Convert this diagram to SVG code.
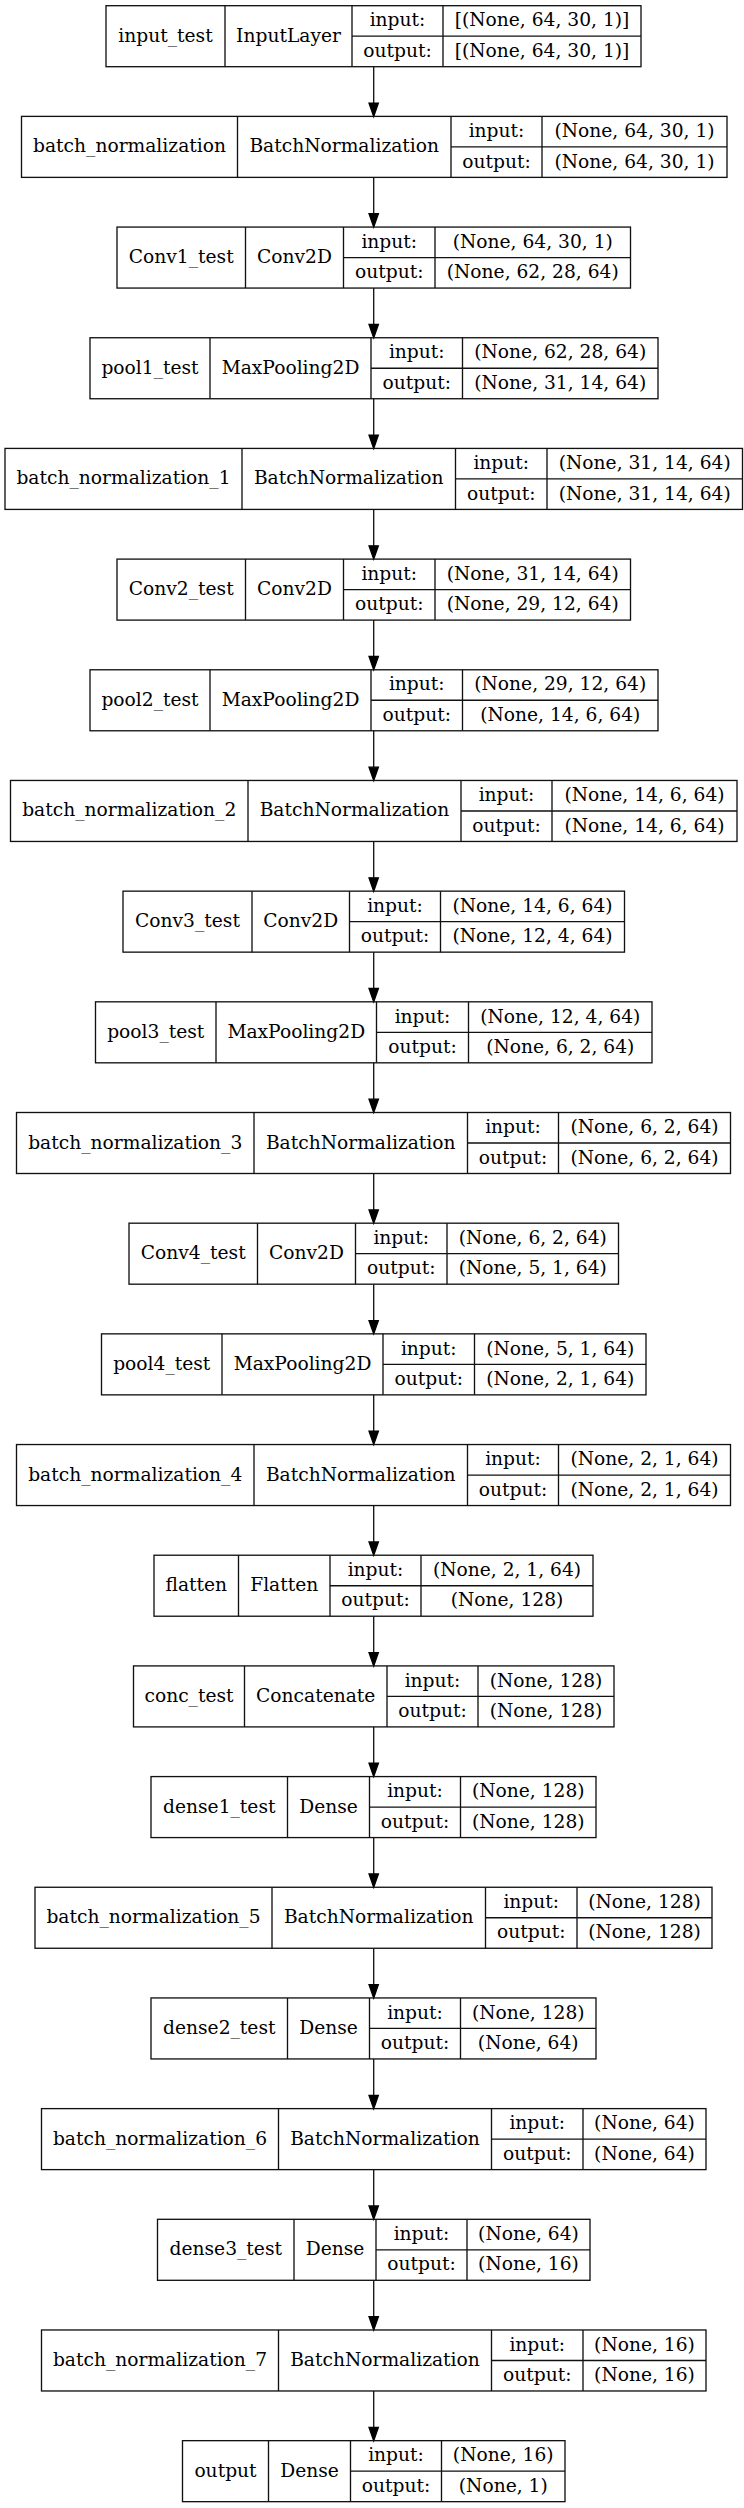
<svg xmlns="http://www.w3.org/2000/svg" width="744" height="2508" viewBox="0 0 744 2508">
<style>
.b rect,.b path{fill:none;stroke:#111;stroke-width:1.33}
.b text{font-family:"DejaVu Serif",serif;font-size:18.67px;text-anchor:middle;fill:#000}
.e path{fill:none;stroke:#111;stroke-width:1.33}
</style>
<defs>
<marker id="ah" markerUnits="userSpaceOnUse" markerWidth="16" markerHeight="12" refX="0" refY="6" orient="auto" overflow="visible">
<path d="M0,1.33 L13.3,6 L0,10.67 z" fill="#000" stroke="#000" stroke-width="1.33"/>
</marker>
</defs>
<rect width="744" height="2508" fill="#fff"/>
<g id="connectors" class="e">
<path d="M373.7,66.7V103.08" marker-end="url(#ah)"/>
<path d="M373.7,177.38V213.76" marker-end="url(#ah)"/>
<path d="M373.7,288.06V324.44" marker-end="url(#ah)"/>
<path d="M373.7,398.74V435.12" marker-end="url(#ah)"/>
<path d="M373.7,509.42V545.8" marker-end="url(#ah)"/>
<path d="M373.7,620.1V656.48" marker-end="url(#ah)"/>
<path d="M373.7,730.78V767.16" marker-end="url(#ah)"/>
<path d="M373.7,841.46V877.84" marker-end="url(#ah)"/>
<path d="M373.7,952.14V988.52" marker-end="url(#ah)"/>
<path d="M373.7,1062.82V1099.2" marker-end="url(#ah)"/>
<path d="M373.7,1173.5V1209.88" marker-end="url(#ah)"/>
<path d="M373.7,1284.18V1320.56" marker-end="url(#ah)"/>
<path d="M373.7,1394.86V1431.24" marker-end="url(#ah)"/>
<path d="M373.7,1505.54V1541.92" marker-end="url(#ah)"/>
<path d="M373.7,1616.22V1652.6" marker-end="url(#ah)"/>
<path d="M373.7,1726.9V1763.28" marker-end="url(#ah)"/>
<path d="M373.7,1837.58V1873.96" marker-end="url(#ah)"/>
<path d="M373.7,1948.26V1984.64" marker-end="url(#ah)"/>
<path d="M373.7,2058.94V2095.32" marker-end="url(#ah)"/>
<path d="M373.7,2169.62V2206" marker-end="url(#ah)"/>
<path d="M373.7,2280.3V2316.68" marker-end="url(#ah)"/>
<path d="M373.7,2390.98V2427.36" marker-end="url(#ah)"/>
</g>

<g id="input_test" class="b" transform="translate(0,5.7)">
<rect x="106" y="0" width="535" height="61"/>
<path d="M225,0V61M352,0V61M443,0V61M352,30.5H641"/>
<text x="165.5" y="36">input_test</text><text x="288.5" y="36">InputLayer</text>
<text x="397.5" y="20.7">input:</text><text x="542" y="20.7">[(None, 64, 30, 1)]</text>
<text x="397.5" y="51.2">output:</text><text x="542" y="51.2">[(None, 64, 30, 1)]</text>
</g>

<g id="batch_normalization" class="b" transform="translate(0,116.38)">
<rect x="21.5" y="0" width="705.5" height="61"/>
<path d="M237.5,0V61M451,0V61M542,0V61M451,30.5H727"/>
<text x="129.5" y="36">batch_normalization</text><text x="344.25" y="36">BatchNormalization</text>
<text x="496.5" y="20.7">input:</text><text x="634.5" y="20.7">(None, 64, 30, 1)</text>
<text x="496.5" y="51.2">output:</text><text x="634.5" y="51.2">(None, 64, 30, 1)</text>
</g>

<g id="Conv1_test" class="b" transform="translate(0,227.06)">
<rect x="117" y="0" width="513.5" height="61"/>
<path d="M245.5,0V61M343.5,0V61M435,0V61M343.5,30.5H630.5"/>
<text x="181.25" y="36">Conv1_test</text><text x="294.5" y="36">Conv2D</text>
<text x="389.25" y="20.7">input:</text><text x="532.75" y="20.7">(None, 64, 30, 1)</text>
<text x="389.25" y="51.2">output:</text><text x="532.75" y="51.2">(None, 62, 28, 64)</text>
</g>

<g id="pool1_test" class="b" transform="translate(0,337.74)">
<rect x="90" y="0" width="568" height="61"/>
<path d="M210,0V61M371,0V61M462.5,0V61M371,30.5H658"/>
<text x="150" y="36">pool1_test</text><text x="290.5" y="36">MaxPooling2D</text>
<text x="416.75" y="20.7">input:</text><text x="560.25" y="20.7">(None, 62, 28, 64)</text>
<text x="416.75" y="51.2">output:</text><text x="560.25" y="51.2">(None, 31, 14, 64)</text>
</g>

<g id="batch_normalization_1" class="b" transform="translate(0,448.42)">
<rect x="5" y="0" width="737.5" height="61"/>
<path d="M242,0V61M455.5,0V61M547,0V61M455.5,30.5H742.5"/>
<text x="123.5" y="36">batch_normalization_1</text><text x="348.75" y="36">BatchNormalization</text>
<text x="501.25" y="20.7">input:</text><text x="644.75" y="20.7">(None, 31, 14, 64)</text>
<text x="501.25" y="51.2">output:</text><text x="644.75" y="51.2">(None, 31, 14, 64)</text>
</g>

<g id="Conv2_test" class="b" transform="translate(0,559.1)">
<rect x="117" y="0" width="513.5" height="61"/>
<path d="M245.5,0V61M343.5,0V61M435,0V61M343.5,30.5H630.5"/>
<text x="181.25" y="36">Conv2_test</text><text x="294.5" y="36">Conv2D</text>
<text x="389.25" y="20.7">input:</text><text x="532.75" y="20.7">(None, 31, 14, 64)</text>
<text x="389.25" y="51.2">output:</text><text x="532.75" y="51.2">(None, 29, 12, 64)</text>
</g>

<g id="pool2_test" class="b" transform="translate(0,669.78)">
<rect x="90" y="0" width="568" height="61"/>
<path d="M210,0V61M371,0V61M462.5,0V61M371,30.5H658"/>
<text x="150" y="36">pool2_test</text><text x="290.5" y="36">MaxPooling2D</text>
<text x="416.75" y="20.7">input:</text><text x="560.25" y="20.7">(None, 29, 12, 64)</text>
<text x="416.75" y="51.2">output:</text><text x="560.25" y="51.2">(None, 14, 6, 64)</text>
</g>

<g id="batch_normalization_2" class="b" transform="translate(0,780.46)">
<rect x="10.5" y="0" width="726.5" height="61"/>
<path d="M248,0V61M461,0V61M552,0V61M461,30.5H737"/>
<text x="129.25" y="36">batch_normalization_2</text><text x="354.5" y="36">BatchNormalization</text>
<text x="506.5" y="20.7">input:</text><text x="644.5" y="20.7">(None, 14, 6, 64)</text>
<text x="506.5" y="51.2">output:</text><text x="644.5" y="51.2">(None, 14, 6, 64)</text>
</g>

<g id="Conv3_test" class="b" transform="translate(0,891.14)">
<rect x="123" y="0" width="501.5" height="61"/>
<path d="M252,0V61M349.5,0V61M440.5,0V61M349.5,30.5H624.5"/>
<text x="187.5" y="36">Conv3_test</text><text x="300.75" y="36">Conv2D</text>
<text x="395" y="20.7">input:</text><text x="532.5" y="20.7">(None, 14, 6, 64)</text>
<text x="395" y="51.2">output:</text><text x="532.5" y="51.2">(None, 12, 4, 64)</text>
</g>

<g id="pool3_test" class="b" transform="translate(0,1001.82)">
<rect x="95.5" y="0" width="556.5" height="61"/>
<path d="M216,0V61M376.5,0V61M468.5,0V61M376.5,30.5H652"/>
<text x="155.75" y="36">pool3_test</text><text x="296.25" y="36">MaxPooling2D</text>
<text x="422.5" y="20.7">input:</text><text x="560.25" y="20.7">(None, 12, 4, 64)</text>
<text x="422.5" y="51.2">output:</text><text x="560.25" y="51.2">(None, 6, 2, 64)</text>
</g>

<g id="batch_normalization_3" class="b" transform="translate(0,1112.5)">
<rect x="16.5" y="0" width="714" height="61"/>
<path d="M254,0V61M467.5,0V61M558.5,0V61M467.5,30.5H730.5"/>
<text x="135.25" y="36">batch_normalization_3</text><text x="360.75" y="36">BatchNormalization</text>
<text x="513" y="20.7">input:</text><text x="644.5" y="20.7">(None, 6, 2, 64)</text>
<text x="513" y="51.2">output:</text><text x="644.5" y="51.2">(None, 6, 2, 64)</text>
</g>

<g id="Conv4_test" class="b" transform="translate(0,1223.18)">
<rect x="129" y="0" width="489.5" height="61"/>
<path d="M257.5,0V61M355.5,0V61M447,0V61M355.5,30.5H618.5"/>
<text x="193.25" y="36">Conv4_test</text><text x="306.5" y="36">Conv2D</text>
<text x="401.25" y="20.7">input:</text><text x="532.75" y="20.7">(None, 6, 2, 64)</text>
<text x="401.25" y="51.2">output:</text><text x="532.75" y="51.2">(None, 5, 1, 64)</text>
</g>

<g id="pool4_test" class="b" transform="translate(0,1333.86)">
<rect x="101.5" y="0" width="544.5" height="61"/>
<path d="M222,0V61M383,0V61M474.5,0V61M383,30.5H646"/>
<text x="161.75" y="36">pool4_test</text><text x="302.5" y="36">MaxPooling2D</text>
<text x="428.75" y="20.7">input:</text><text x="560.25" y="20.7">(None, 5, 1, 64)</text>
<text x="428.75" y="51.2">output:</text><text x="560.25" y="51.2">(None, 2, 1, 64)</text>
</g>

<g id="batch_normalization_4" class="b" transform="translate(0,1444.54)">
<rect x="16.5" y="0" width="714" height="61"/>
<path d="M254,0V61M467.5,0V61M558.5,0V61M467.5,30.5H730.5"/>
<text x="135.25" y="36">batch_normalization_4</text><text x="360.75" y="36">BatchNormalization</text>
<text x="513" y="20.7">input:</text><text x="644.5" y="20.7">(None, 2, 1, 64)</text>
<text x="513" y="51.2">output:</text><text x="644.5" y="51.2">(None, 2, 1, 64)</text>
</g>

<g id="flatten" class="b" transform="translate(0,1555.22)">
<rect x="154" y="0" width="439" height="61"/>
<path d="M238.5,0V61M330,0V61M421,0V61M330,30.5H593"/>
<text x="196.25" y="36">flatten</text><text x="284.25" y="36">Flatten</text>
<text x="375.5" y="20.7">input:</text><text x="507" y="20.7">(None, 2, 1, 64)</text>
<text x="375.5" y="51.2">output:</text><text x="507" y="51.2">(None, 128)</text>
</g>

<g id="conc_test" class="b" transform="translate(0,1665.9)">
<rect x="133.5" y="0" width="480.5" height="61"/>
<path d="M244.5,0V61M387,0V61M478,0V61M387,30.5H614"/>
<text x="189" y="36">conc_test</text><text x="315.75" y="36">Concatenate</text>
<text x="432.5" y="20.7">input:</text><text x="546" y="20.7">(None, 128)</text>
<text x="432.5" y="51.2">output:</text><text x="546" y="51.2">(None, 128)</text>
</g>

<g id="dense1_test" class="b" transform="translate(0,1776.58)">
<rect x="151" y="0" width="445" height="61"/>
<path d="M287.5,0V61M369.5,0V61M460.5,0V61M369.5,30.5H596"/>
<text x="219.25" y="36">dense1_test</text><text x="328.5" y="36">Dense</text>
<text x="415" y="20.7">input:</text><text x="528.25" y="20.7">(None, 128)</text>
<text x="415" y="51.2">output:</text><text x="528.25" y="51.2">(None, 128)</text>
</g>

<g id="batch_normalization_5" class="b" transform="translate(0,1887.26)">
<rect x="35" y="0" width="677" height="61"/>
<path d="M272,0V61M485.5,0V61M577,0V61M485.5,30.5H712"/>
<text x="153.5" y="36">batch_normalization_5</text><text x="378.75" y="36">BatchNormalization</text>
<text x="531.25" y="20.7">input:</text><text x="644.5" y="20.7">(None, 128)</text>
<text x="531.25" y="51.2">output:</text><text x="644.5" y="51.2">(None, 128)</text>
</g>

<g id="dense2_test" class="b" transform="translate(0,1997.94)">
<rect x="151" y="0" width="445" height="61"/>
<path d="M287.5,0V61M369.5,0V61M460.5,0V61M369.5,30.5H596"/>
<text x="219.25" y="36">dense2_test</text><text x="328.5" y="36">Dense</text>
<text x="415" y="20.7">input:</text><text x="528.25" y="20.7">(None, 128)</text>
<text x="415" y="51.2">output:</text><text x="528.25" y="51.2">(None, 64)</text>
</g>

<g id="batch_normalization_6" class="b" transform="translate(0,2108.62)">
<rect x="41.5" y="0" width="664.5" height="61"/>
<path d="M278.5,0V61M491.5,0V61M583,0V61M491.5,30.5H706"/>
<text x="160" y="36">batch_normalization_6</text><text x="385" y="36">BatchNormalization</text>
<text x="537.25" y="20.7">input:</text><text x="644.5" y="20.7">(None, 64)</text>
<text x="537.25" y="51.2">output:</text><text x="644.5" y="51.2">(None, 64)</text>
</g>

<g id="dense3_test" class="b" transform="translate(0,2219.3)">
<rect x="157.5" y="0" width="432.5" height="61"/>
<path d="M294,0V61M376,0V61M467,0V61M376,30.5H590"/>
<text x="225.75" y="36">dense3_test</text><text x="335" y="36">Dense</text>
<text x="421.5" y="20.7">input:</text><text x="528.5" y="20.7">(None, 64)</text>
<text x="421.5" y="51.2">output:</text><text x="528.5" y="51.2">(None, 16)</text>
</g>

<g id="batch_normalization_7" class="b" transform="translate(0,2329.98)">
<rect x="41.5" y="0" width="664.5" height="61"/>
<path d="M278.5,0V61M491.5,0V61M583,0V61M491.5,30.5H706"/>
<text x="160" y="36">batch_normalization_7</text><text x="385" y="36">BatchNormalization</text>
<text x="537.25" y="20.7">input:</text><text x="644.5" y="20.7">(None, 16)</text>
<text x="537.25" y="51.2">output:</text><text x="644.5" y="51.2">(None, 16)</text>
</g>

<g id="output" class="b" transform="translate(0,2440.66)">
<rect x="182.5" y="0" width="382.5" height="61"/>
<path d="M268.5,0V61M350.5,0V61M441.5,0V61M350.5,30.5H565"/>
<text x="225.5" y="36">output</text><text x="309.5" y="36">Dense</text>
<text x="396" y="20.7">input:</text><text x="503.25" y="20.7">(None, 16)</text>
<text x="396" y="51.2">output:</text><text x="503.25" y="51.2">(None, 1)</text>
</g>
</svg>
